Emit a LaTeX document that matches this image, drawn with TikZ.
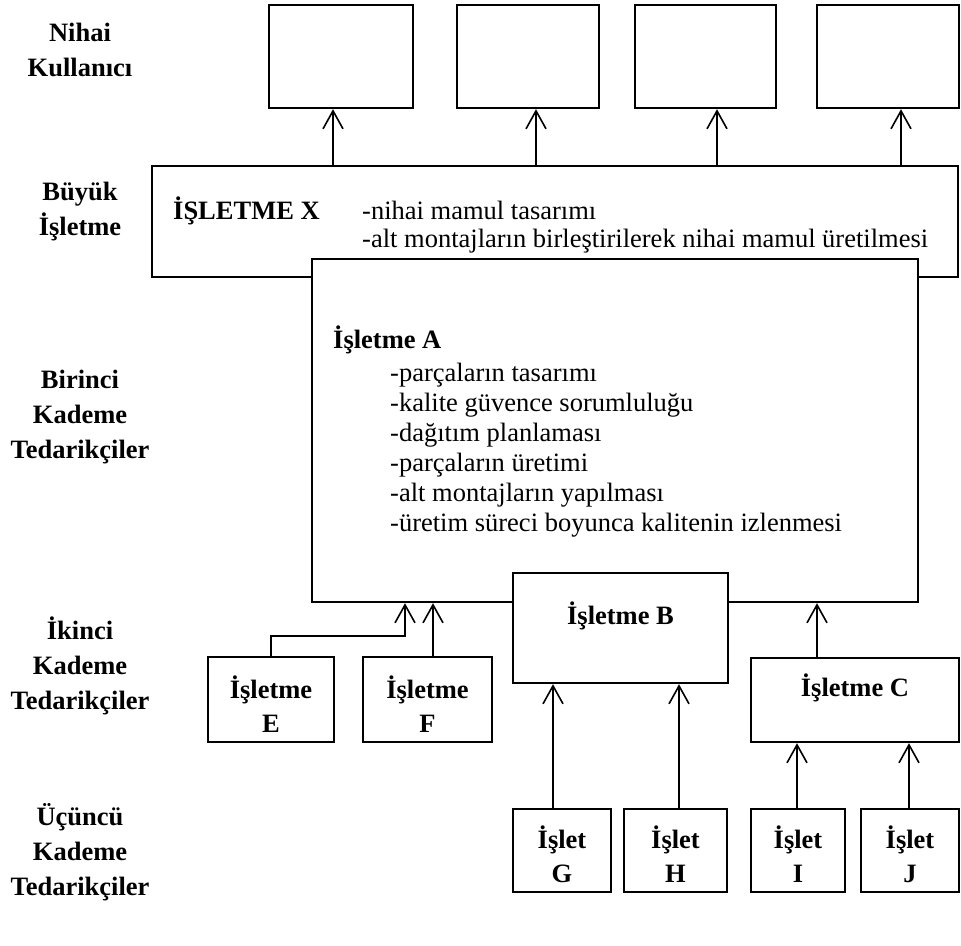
\documentclass[tikz,border=0pt]{standalone}
\usepackage{fontspec}
\setmainfont{Liberation Serif}
\usetikzlibrary{arrows.meta}
\begin{document}
\begin{tikzpicture}[x=1pt,y=-1pt,
  box/.style={draw, line width=2.4pt, fill=white, inner sep=0pt, line join=miter},
  arr/.style={line width=1.6pt, -{Straight Barb[length=18pt,width=20pt]}},
  lbl/.style={inner sep=0pt, font=\fontsize{26.5}{35}\selectfont\bfseries, align=center},
  txt/.style={inner sep=0pt, font=\fontsize{26.5}{30}\selectfont, anchor=base west},
  btxt/.style={inner sep=0pt, font=\fontsize{26.5}{30}\selectfont\bfseries},
]
\useasboundingbox[fill=white] (0,0) rectangle (961,945);

% left level labels
\node[lbl] (L1) at (80,50) {Nihai\\Kullanıcı};
\node[lbl] (L2) at (80,212) {Büyük\\İşletme};
\node[lbl] (L3) at (80,417) {Birinci\\Kademe\\Tedarikçiler};
\node[lbl] (L4) at (80,666) {İkinci\\Kademe\\Tedarikçiler};
\node[lbl] (L5) at (80,852) {Üçüncü\\Kademe\\Tedarikçiler};

% top (end user) boxes
\node[box, minimum width=144pt, minimum height=103pt] (t1) at (341,56.5) {};
\node[box, minimum width=142pt, minimum height=103pt] (t2) at (528,56.5) {};
\node[box, minimum width=141pt, minimum height=103pt] (t3) at (705.5,56.5) {};
\node[box, minimum width=142pt, minimum height=103pt] (t4) at (888,56.5) {};

% big company X
\node[box, minimum width=806pt, minimum height=111pt] (X) at (555,221.5) {};
\node[btxt, anchor=base west] (Xt) at (173,219) {İŞLETME X};
\node[txt] (X1) at (362,219) {-nihai mamul tasarımı};
\node[txt] (X2) at (362,247) {-alt montajların birleştirilerek nihai mamul üretilmesi};

% first tier A
\node[box, minimum width=606pt, minimum height=343pt] (A) at (615,430.5) {};
\node[btxt, anchor=base west] (At) at (333,348) {İşletme A};
\foreach \t [count=\i] in {-parçaların tasarımı,-kalite güvence sorumluluğu,-dağıtım planlaması,-parçaların üretimi,-alt montajların yapılması,-üretim süreci boyunca kalitenin izlenmesi}
  \node[txt] (al\i) at (390,351+30*\i) {\t};

% second tier
\node[box, minimum width=215pt, minimum height=110pt] (B) at (620.5,628) {};
\node[btxt, anchor=base] (Bt) at (620.5,624) {İşletme B};
\node[box, minimum width=208pt, minimum height=84pt] (C) at (855,700) {};
\node[btxt, anchor=base] (Ct) at (855,696) {İşletme C};
\node[box, minimum width=126pt, minimum height=85pt] (E) at (271,699.5) {};
\node[btxt, align=center] (Et) at (271,704) {İşletme\\[4pt]E};
\node[box, minimum width=129pt, minimum height=85pt] (F) at (427.5,699.5) {};
\node[btxt, align=center] (Ft) at (427.5,704) {İşletme\\[4pt]F};

% third tier
\node[box, minimum width=98pt, minimum height=83pt] (G) at (562,850.5) {};
\node[btxt, align=center] (Gt) at (562,854) {İşlet\\[4pt]G};
\node[box, minimum width=103pt, minimum height=83pt] (H) at (675.5,850.5) {};
\node[btxt, align=center] (Ht) at (675.5,854) {İşlet\\[4pt]H};
\node[box, minimum width=94pt, minimum height=83pt] (I) at (798,850.5) {};
\node[btxt, align=center] (It) at (798,854) {İşlet\\[4pt]I};
\node[box, minimum width=98pt, minimum height=83pt] (J) at (910,850.5) {};
\node[btxt, align=center] (Jt) at (910,854) {İşlet\\[4pt]J};

% arrow columns
\coordinate (c1) at (333,0);
\coordinate (c2) at (536,0);
\coordinate (c3) at (717,0);
\coordinate (c4) at (901,0);
\coordinate (eJ) at (405,636);
\coordinate (cF) at (433,0);
\coordinate (cC) at (817,0);
\coordinate (cG) at (553,0);
\coordinate (cH) at (679,0);
\coordinate (cI) at (797,0);
\coordinate (cJ) at (909,0);

% connectors
\draw[arr] (c1 |- X.north) -- (c1 |- t1.south);
\draw[arr] (c2 |- X.north) -- (c2 |- t2.south);
\draw[arr] (c3 |- X.north) -- (c3 |- t3.south);
\draw[arr] (c4 |- X.north) -- (c4 |- t4.south);
\draw[arr] (E.north) |- (eJ) -- (eJ |- A.south);
\draw[arr] (cF |- F.north) -- (cF |- A.south);
\draw[arr] (cC |- C.north) -- (cC |- A.south);
\draw[arr] (cG |- G.north) -- (cG |- B.south);
\draw[arr] (cH |- H.north) -- (cH |- B.south);
\draw[arr] (cI |- I.north) -- (cI |- C.south);
\draw[arr] (cJ |- J.north) -- (cJ |- C.south);
\end{tikzpicture}
\end{document}
